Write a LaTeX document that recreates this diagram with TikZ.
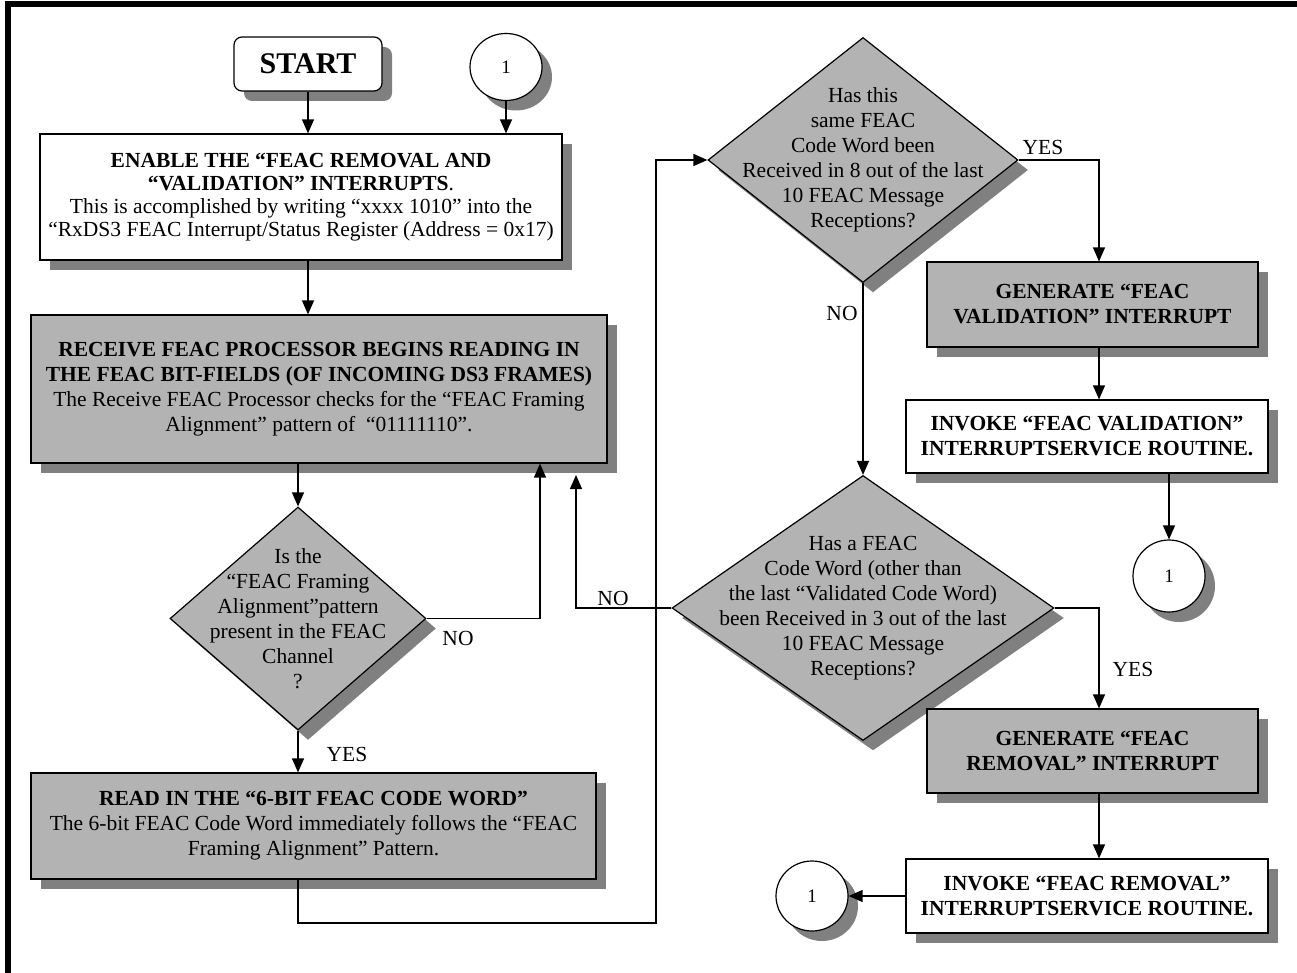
\documentclass[tikz,border=0pt]{standalone}
\usepackage{fontspec}
\setmainfont{Liberation Serif}
\usetikzlibrary{arrows.meta,shapes.geometric,shadows}
\definecolor{boxgray}{RGB}{179,179,179}
\definecolor{shadowgray}{RGB}{128,128,128}
\newcommand{\mainfnt}{\fontsize{21.5}{25}\selectfont}
\newcommand{\tightfnt}{\fontsize{21.5}{23}\selectfont}
\begin{document}
\begin{tikzpicture}[x=1pt,y=-1pt,
  base/.style={draw=black, line width=1.2pt, inner sep=0pt, align=center, font=\mainfnt},
  shad/.style={drop shadow={shadow xshift=10pt, shadow yshift=-10pt, fill=shadowgray, opacity=1}},
  wbox/.style={base, rectangle, fill=white, shad},
  gbox/.style={base, rectangle, fill=boxgray, shad},
  decide/.style={base, diamond, fill=boxgray, shad},
  conn/.style={base, ellipse, fill=white, font=\fontsize{19}{21}\selectfont, shad},
  flow/.style={line width=1.3pt, -{Triangle[length=14pt,width=12pt]}},
  lbl/.style={font=\mainfnt, inner sep=0pt}
]
\useasboundingbox (0,0) rectangle (1297,973);
% frame
\fill[black] (5,1) rectangle (1297,7);
\fill[black] (5,1) rectangle (11,973);

% nodes
\node[wbox, rounded corners=8pt, minimum width=148pt, minimum height=54pt,
      font=\bfseries\fontsize{30}{32}\selectfont] (start) at (308,64) {START};
\node[conn, minimum width=72pt, minimum height=67pt] (c1) at (506,67) {1};

\node[wbox, minimum width=522pt, minimum height=126pt, font=\tightfnt] (box1) at (301,197)
 {\textbf{ENABLE THE “FEAC REMOVAL AND}\\
  \textbf{“VALIDATION” INTERRUPTS}.\\
  This is accomplished by writing “xxxx 1010” into the\\
  “RxDS3 FEAC Interrupt/Status Register (Address = 0x17)};

\node[gbox, minimum width=576pt, minimum height=148pt] (box2) at (319,389)
 {\textbf{RECEIVE FEAC PROCESSOR BEGINS READING IN}\\
  \textbf{THE FEAC BIT-FIELDS (OF INCOMING DS3 FRAMES)}\\
  The Receive FEAC Processor checks for the “FEAC Framing\\
  Alignment” pattern of~ “01111110”.};

\node[decide, minimum width=256pt, minimum height=223pt,
  label={[lbl, align=center]center:{Is the\\ “FEAC Framing\\ Alignment”pattern\\ present in the FEAC\\ Channel\\ ?}}] (d1) at (298,618.5) {};

\node[gbox, minimum width=565pt, minimum height=106pt] (box3) at (313.5,826)
 {\textbf{READ IN THE “6-BIT FEAC CODE WORD”}\\
  The 6-bit FEAC Code Word immediately follows the “FEAC\\
  Framing Alignment” Pattern.};

\node[decide, minimum width=310pt, minimum height=245pt,
  label={[lbl, align=center]center:{Has this\\ same FEAC\\ Code Word been\\ Received in 8 out of the last\\ 10 FEAC Message\\ Receptions?}}] (d2) at (863,160) {};

\node[gbox, minimum width=331pt, minimum height=85pt, font=\bfseries\mainfnt] (box4) at (1092.5,304.5)
 {GENERATE “FEAC\\ VALIDATION” INTERRUPT};

\node[wbox, minimum width=362pt, minimum height=73pt, font=\bfseries\mainfnt] (box5) at (1087,436.5)
 {INVOKE “FEAC VALIDATION”\\ INTERRUPTSERVICE ROUTINE.};

\node[conn, minimum width=72pt, minimum height=72pt] (c2) at (1169,576) {1};

\node[decide, minimum width=382pt, minimum height=265pt,
  label={[lbl, align=center]center:{Has a FEAC\\ Code Word (other than\\ the last “Validated Code Word)\\ been Received in 3 out of the last\\ 10 FEAC Message\\ Receptions?}}] (d3) at (863,608) {};

\node[gbox, minimum width=331pt, minimum height=84pt, font=\bfseries\mainfnt] (box6) at (1092.5,751)
 {GENERATE “FEAC\\ REMOVAL” INTERRUPT};

\node[wbox, minimum width=362pt, minimum height=74pt, font=\bfseries\mainfnt] (box7) at (1087,896)
 {INVOKE “FEAC REMOVAL”\\ INTERRUPTSERVICE ROUTINE.};

\node[conn, minimum width=72pt, minimum height=70pt] (c3) at (812,896) {1};

% helper coordinates
\coordinate (colA) at (308,0);
\coordinate (colR) at (1099,0);
\coordinate (noA) at (540,0);
\coordinate (noB) at (576,475);
\coordinate (loopB) at (656,923);

% connectors
\draw[flow] (start.south) -- (start.south |- box1.north);
\draw[flow] (c1.south) -- (c1.south |- box1.north);
\draw[flow] (colA |- box1.south) -- (colA |- box2.north);
\draw[flow] (d1.north |- box2.south) -- (d1.north);
\draw[flow] (d1.east) -| (noA |- box2.south);
\draw[flow] (d1.south) -- (d1.south |- box3.north);
\draw[flow] (d1.south |- box3.south) -- (d1.south |- loopB) -- (loopB) |- (d2.west);
\draw[flow] (d3.west) -| (noB);
\draw[flow] (d2.east) -| (colR |- box4.north);
\draw[flow] (colR |- box4.south) -- (colR |- box5.north);
\draw[flow] (c2.north |- box5.south) -- (c2.north);
\draw[flow] (d2.south) -- (d3.north);
\draw[flow] (d3.east) -| (colR |- box6.north);
\draw[flow] (colR |- box6.south) -- (colR |- box7.north);
\draw[flow] (box7.west) -- (c3.east);

% labels
\node[lbl] (lnoA) at (458,638) {NO};
\node[lbl] (lyesA) at (347,754) {YES};
\node[lbl] (lnoB) at (613,598) {NO};
\node[lbl] (lyesB) at (1043,147) {YES};
\node[lbl] (lnoC) at (842,313) {NO};
\node[lbl] (lyesC) at (1133,669) {YES};
\end{tikzpicture}
\end{document}
